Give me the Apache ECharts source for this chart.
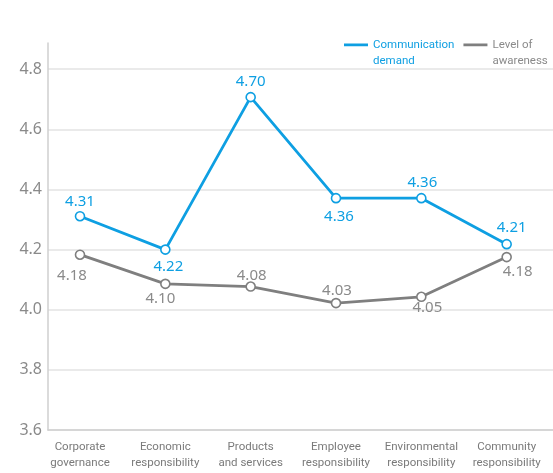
<!DOCTYPE html>
<html>
<head>
<meta charset="utf-8">
<script src="https://cdn.jsdelivr.net/npm/echarts@6/dist/echarts.min.js"></script>
<style>html,body{margin:0;padding:0;background:#fff;}#c{width:553px;height:473px;}</style>
</head>
<body>
<div id="c"></div>
<script>
const categories = ['Corporate\ngovernance','Economic\nresponsibility','Products\nand services','Employee\nresponsibility','Environmental\nresponsibility','Community\nresponsibility'];
const demandValues = [4.311, 4.200, 4.707, 4.371, 4.371, 4.218];
const demandLabels = ['4.31','4.22','4.70','4.36','4.36','4.21'];
const awarenessValues = [4.183, 4.086, 4.077, 4.022, 4.043, 4.175];
const awarenessLabels = ['4.18','4.10','4.08','4.03','4.05','4.18'];
const yTicks = [3.6, 3.8, 4.0, 4.2, 4.4, 4.6, 4.8];

const BLUE = '#0e9fe2';
const GRAY = '#7f7f7f';
const GRAY_TXT = '#8a8a8a';
const demandOffsets = [[0,-14],[3,17],[0,-15],[3,19],[1,-15],[5,-16]];
const awarenessOffsets = [[-8,21],[-5,15],[1,-11],[1,-12],[6,11],[11,15]];

function build(values, labels, offsets, color) {
  return values.map((v, i) => ({
    value: [i, v],
    label: { formatter: labels[i], offset: offsets[i], position: 'inside', color: color }
  }));
}

const legendIcon = 'path://M0,0H24V2.4H0Z M0,16H0.01V16.01H0Z';

const chart = echarts.init(document.getElementById('c'), null, {renderer: 'canvas'});
chart.setOption({
  animation: false,
  backgroundColor: '#fff',
  textStyle: { fontFamily: 'Noto Sans' },
  grid: { left: 48, right: 0, top: 43, bottom: 43, containLabel: false },
  legend: {
    orient: 'horizontal',
    left: 344, top: 37, width: 209, padding: 0,
    icon: legendIcon, symbolKeepAspect: false,
    itemWidth: 24, itemHeight: 19, itemGap: 9,
    textStyle: { fontFamily: 'Roboto', fontSize: 11.5, lineHeight: 16 },
    data: [
      { name: 'Communication\ndemand', textStyle: { color: BLUE }, itemStyle: { color: BLUE, borderWidth: 0 } },
      { name: 'Level of\nawareness', textStyle: { color: GRAY_TXT }, itemStyle: { color: GRAY, borderWidth: 0 } }
    ]
  },
  xAxis: {
    type: 'value',
    min: -0.375, max: 5.543,
    splitLine: { show: false },
    axisTick: { show: false },
    axisLine: { show: true, onZero: false, lineStyle: { color: '#cfcfcf', width: 1.5 } },
    axisLabel: {
      customValues: [0,1,2,3,4,5],
      formatter: v => categories[Math.round(v)],
      fontFamily: 'Roboto', fontSize: 11.5, lineHeight: 16,
      color: '#7a7a7a', margin: 9
    }
  },
  yAxis: {
    type: 'value',
    min: 3.6, max: 4.887, interval: 0.2,
    axisLine: { show: true, onZero: false, lineStyle: { color: '#cfcfcf', width: 1.5 } },
    axisTick: { show: false },
    splitLine: { show: true, showMaxLine: false, lineStyle: { color: '#e3e3e3', width: 1.5 } },
    axisLabel: {
      showMaxLabel: false,
      formatter: v => { const t = yTicks.find(x => Math.abs(x - v) < 1e-6); return t === undefined ? '' : t.toFixed(1); },
      fontSize: 16, color: '#8a8a8a', margin: 6, fontFamily: 'Noto Sans'
    }
  },
  series: [
    {
      name: 'Communication\ndemand', type: 'line',
      data: build(demandValues, demandLabels, demandOffsets, BLUE),
      lineStyle: { color: BLUE, width: 2.8 },
      itemStyle: { color: '#fff', borderColor: BLUE, borderWidth: 1.6 },
      color: BLUE,
      symbol: 'circle', symbolSize: 9,
      label: { show: true, fontSize: 15, fontFamily: 'Noto Sans' },
      z: 3
    },
    {
      name: 'Level of\nawareness', type: 'line',
      data: build(awarenessValues, awarenessLabels, awarenessOffsets, GRAY_TXT),
      lineStyle: { color: GRAY, width: 2.8 },
      itemStyle: { color: '#fff', borderColor: GRAY, borderWidth: 1.6 },
      color: GRAY,
      symbol: 'circle', symbolSize: 9,
      label: { show: true, fontSize: 15, fontFamily: 'Noto Sans' },
      z: 2
    }
  ]
});
</script>
</body>
</html>
